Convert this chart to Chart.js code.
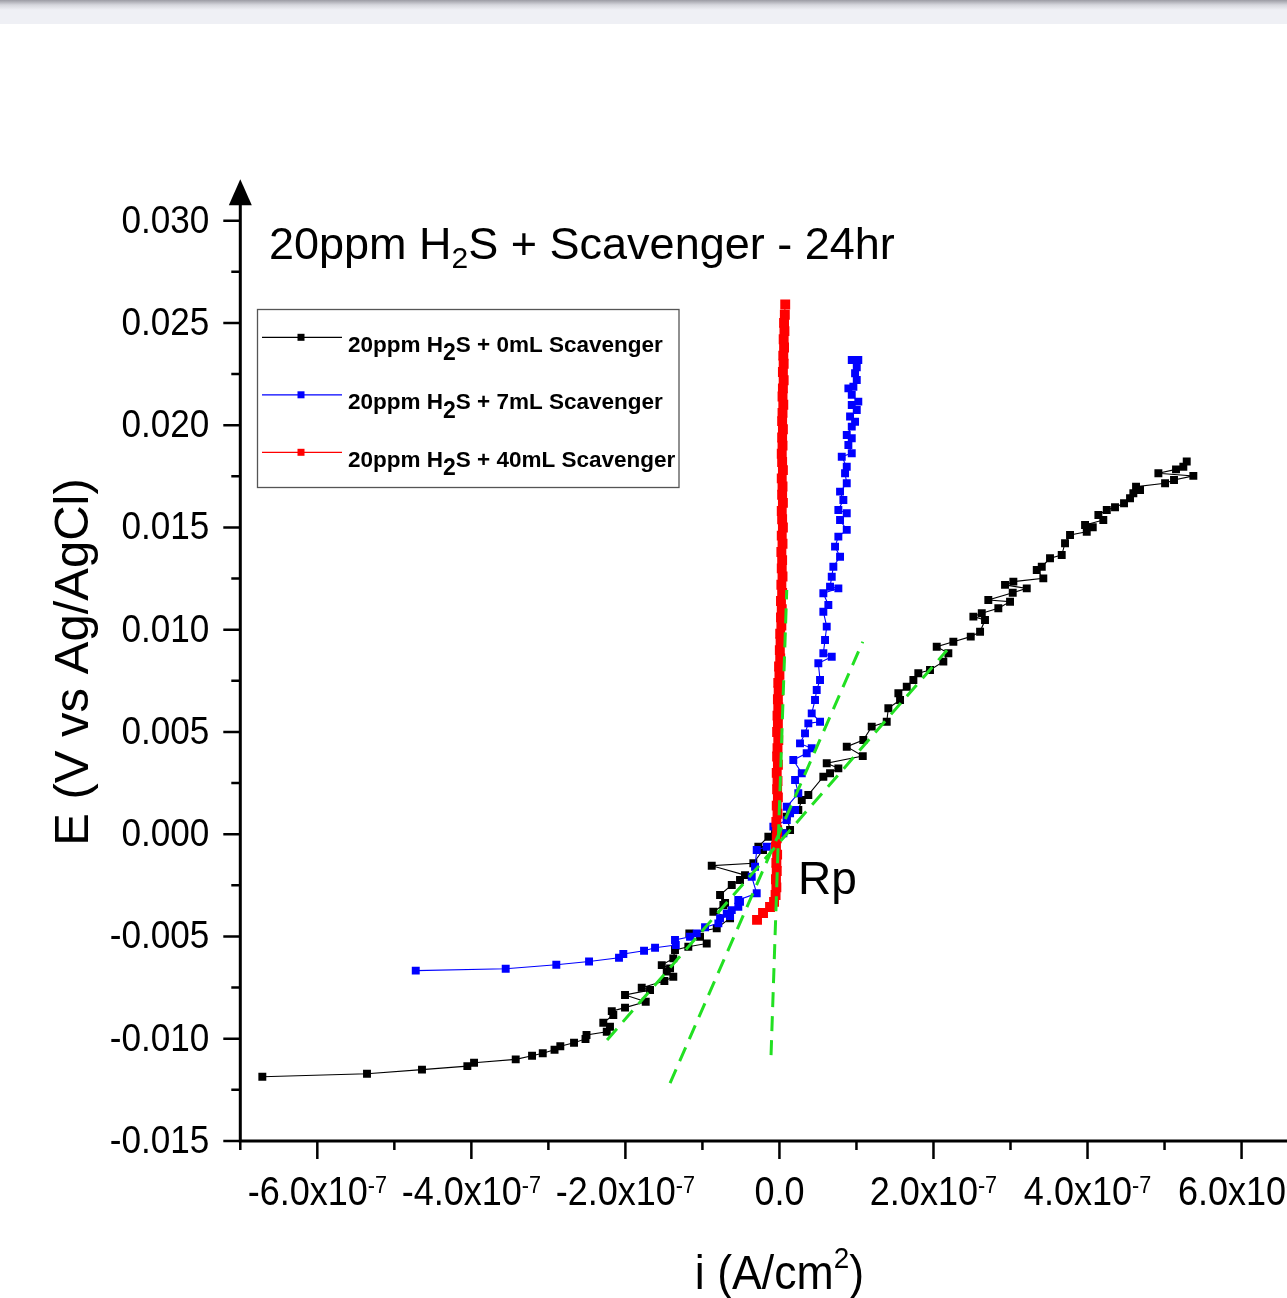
<!DOCTYPE html>
<html>
<head>
<meta charset="utf-8">
<script src="https://cdn.jsdelivr.net/npm/chart.js@4.4.0/dist/chart.umd.min.js"></script>
<style>
  html, body { margin: 0; padding: 0; background: #fff; overflow: hidden; }
  body { width: 1287px; height: 1298px; position: relative; }
  #barra { position: absolute; left: 0; top: 0; width: 1287px; height: 24px;
    background: linear-gradient(#9c9ca4 0px, #d6d7dd 5px, #eff0f5 10px, #eff0f5 24px); }
  #grafico { position: absolute; left: 0; top: 0; }
</style>
</head>
<body>
<canvas id="grafico" width="1450" height="1298"></canvas>
<div id="barra"></div>
<script>
// corrente em 1e-7 A/cm2, potencial em mV
const nomes = ['20ppm H₂S + 0mL Scavenger', '20ppm H₂S + 7mL Scavenger', '20ppm H₂S + 40mL Scavenger'];
const cores = ['#000000', '#0000ff', '#ff0000'];

const i0mL = [-6.714, -5.355, -4.641, -4.052, -3.965, -3.424, -3.212, -3.073, -2.920, -2.845, -2.667, -2.518, -2.505,
  -2.242, -2.200, -2.287, -2.157, -2.177, -2.005, -1.736, -2.005, -1.680, -1.788, -1.494, -1.378, -1.463, -1.420,
  -1.528, -1.378, -1.356, -1.183, -0.944, -1.031, -1.170, -0.814, -0.641, -0.858, -0.728, -0.706, -0.771, -0.619,
  -0.512, -0.447, -0.879, -0.339, -0.213, -0.274, -0.144, -0.057, 0.138, 0.095, 0.245, 0.290, 0.375, 0.570, 0.657,
  0.765, 0.614, 1.082, 0.874, 1.089, 1.198, 1.393, 1.414, 1.566, 1.544, 1.653, 1.739, 1.803, 1.955, 2.128, 2.193,
  2.042, 2.258, 2.484, 2.605, 2.669, 2.518, 2.627, 2.842, 2.994, 2.712, 3.029, 3.211, 2.929, 3.037, 3.426, 3.341,
  3.406, 3.513, 3.665, 3.708, 3.773, 3.990, 4.068, 3.968, 4.205, 4.141, 4.250, 4.357, 4.474, 4.552, 4.595, 4.682,
  4.630, 5.007, 5.123, 5.374, 4.920, 5.149, 5.244, 5.288];
const e0mL = [-11.86, -11.71, -11.51, -11.34, -11.17, -11.01, -10.83, -10.71, -10.54, -10.37, -10.20, -10.01, -9.82,
  -9.66, -9.41, -9.22, -8.84, -8.65, -8.48, -8.19, -7.86, -7.62, -7.51, -7.18, -6.97, -6.72, -6.56,
  -6.40, -6.07, -5.66, -5.50, -5.34, -5.01, -4.85, -4.60, -4.11, -3.79, -3.46, -3.36, -2.97, -2.48,
  -2.24, -2.00, -1.54, -1.42, -0.77, -0.61, -0.12, 0.21, 0.21, 0.86, 1.18, 1.67, 1.92, 2.81, 2.98,
  3.22, 3.47, 3.82, 4.28, 4.61, 5.26, 5.50, 6.16, 6.56, 6.89, 7.21, 7.54, 7.87, 8.03, 8.44, 8.85,
  9.17, 9.41, 9.66, 9.90, 10.47, 10.64, 10.80, 11.05, 11.37, 11.45, 11.81, 12.02, 12.19, 12.35, 12.51, 12.92,
  13.08, 13.49, 13.65, 14.23, 14.63, 14.79, 15.01, 15.12, 15.36, 15.61, 15.85, 15.99, 16.18, 16.43, 16.67, 16.83,
  16.99, 17.16, 17.32, 17.52, 17.65, 17.84, 17.97, 18.22];

const i7mL = [-4.722, -3.554, -2.897, -2.472, -2.083, -2.027, -1.758, -1.615, -1.346, -1.356, -1.161, -1.074, -0.966,
  -0.793, -0.771, -0.641, -0.684, -0.619, -0.534, -0.512, -0.534, -0.295, -0.360, -0.317, -0.295, -0.165, 0.051,
  -0.079, 0.095, 0.138, 0.203, 0.095, 0.245, 0.203, 0.290, 0.180, 0.354, 0.419, 0.267, 0.332, 0.375, 0.527, 0.419,
  0.462, 0.484, 0.527, 0.505, 0.679, 0.570, 0.592, 0.614, 0.570, 0.635, 0.570, 0.765, 0.657, 0.679, 0.700, 0.787,
  0.722, 0.765, 0.874, 0.787, 0.874, 0.765, 0.830, 0.787, 0.874, 0.852, 0.874, 0.809, 0.939, 0.895, 0.939, 0.874,
  0.939, 0.982, 0.917, 1.004, 0.939, 1.024, 0.939, 0.895, 0.960, 1.004, 0.982, 1.004, 0.939, 1.024];
const e7mL = [-6.67, -6.58, -6.38, -6.22, -6.04, -5.86, -5.70, -5.55, -5.42, -5.17, -5.01, -4.85, -4.55,
  -4.36, -4.11, -4.00, -3.87, -3.71, -3.55, -3.30, -3.22, -2.89, -2.08, -1.59, -0.77, -0.61, 0.04,
  0.37, 0.69, 1.02, 1.18, 1.34, 2.00, 2.65, 2.98, 3.63, 3.96, 4.20, 4.44, 4.93, 5.42, 5.50, 5.91,
  6.56, 7.05, 7.54, 8.36, 8.68, 8.85, 9.50, 10.15, 10.88, 11.21, 11.78, 12.02, 12.10, 12.59, 13.08, 13.57,
  14.06, 14.55, 14.88, 15.36, 15.69, 15.85, 16.34, 16.75, 17.16, 17.65, 17.97, 18.46, 18.63, 19.03, 19.36, 19.52,
  19.93, 20.17, 20.42, 20.74, 20.99, 21.15, 21.48, 21.80, 21.88, 22.21, 22.54, 22.83, 23.19, 23.19];

const i40mL = [-0.291, -0.213, -0.122, -0.070, -0.050, -0.040, -0.045, -0.035, -0.040, -0.030, -0.045, -0.035,
  -0.030, -0.040, -0.025, -0.035, -0.020, -0.030, -0.025, -0.035, -0.020, -0.030, -0.025, -0.015, -0.030, -0.020,
  -0.025, -0.015, -0.020, -0.010, -0.015, 0.000, -0.005, 0.010, 0.005, 0.015, 0.010, 0.025, 0.020, 0.030, 0.020,
  0.035, 0.025, 0.040, 0.030, 0.035, 0.025, 0.040, 0.030, 0.045, 0.035, 0.030, 0.045, 0.035, 0.040, 0.030, 0.045,
  0.035, 0.030, 0.040, 0.035, 0.045, 0.035, 0.040, 0.050, 0.040, 0.045, 0.055, 0.045, 0.055, 0.050, 0.060, 0.055,
  0.065, 0.060, 0.070, 0.075];
const e40mL = [-4.19, -3.85, -3.56, -3.31, -2.97, -2.6, -2.2, -1.8, -1.4, -1.0, -0.6, -0.2,
  0.2, 0.6, 1.0, 1.4, 1.8, 2.2, 2.6, 3.0, 3.4, 3.8, 4.2, 4.6, 5.0, 5.4,
  5.8, 6.2, 6.6, 7.0, 7.4, 7.8, 8.2, 8.6, 9.0, 9.4, 9.8, 10.2, 10.6, 11.0, 11.4,
  11.8, 12.2, 12.6, 13.0, 13.4, 13.8, 14.2, 14.6, 15.0, 15.4, 15.8, 16.2, 16.6, 17.0, 17.4, 17.8,
  18.2, 18.6, 19.0, 19.4, 19.8, 20.2, 20.6, 21.0, 21.4, 21.8, 22.2, 22.6, 23.0, 23.4, 23.8, 24.2,
  24.6, 25.0, 25.4, 25.9];

// retas de Rp (verde tracejado)
const retaI0 = [-2.238, 2.176], retaE0 = [-10.06, 9.00];
const retaI7 = [-1.420, 1.082], retaE7 = [-12.17, 9.41];
const retaI40 = [-0.109, 0.095], retaE40 = [-10.8, 11.94];

const yTicks = [-0.015, -0.010, -0.005, 0.000, 0.005, 0.010, 0.015, 0.020, 0.025, 0.030];
const yTickLabels = ['-0.015', '-0.010', '-0.005', '0.000', '0.005', '0.010', '0.015', '0.020', '0.025', '0.030'];
const xTicks = [-6e-7, -4e-7, -2e-7, 0, 2e-7, 4e-7, 6e-7];
const xTickMant = ['-6.0', '-4.0', '-2.0', '0.0', '2.0', '4.0', '6.0'];
const xTickExp = ['-7', '-7', '-7', '', '-7', '-7', '-7'];

const FONTE = "'Liberation Sans', Arial, sans-serif";

function pontos(iArr, eArr) {
  return iArr.map((v, k) => ({ x: v * 1e-7, y: eArr[k] / 1000 }));
}

function serie(idx, iArr, eArr, raio) {
  return {
    label: nomes[idx], data: pontos(iArr, eArr), showLine: true,
    borderColor: cores[idx], backgroundColor: cores[idx], borderWidth: 1.1,
    pointStyle: 'rect', pointRadius: raio, pointBorderWidth: 0, pointBackgroundColor: cores[idx]
  };
}

function reta(iArr, eArr) {
  return {
    label: 'Rp', data: pontos(iArr, eArr), showLine: true, borderColor: '#22e022',
    borderWidth: 3, borderDash: [15, 9], pointRadius: 0
  };
}

// texto em partes (para sub/sobrescrito), com compressão horizontal sx
function texto(ctx, partes, x, y, alinh, sx) {
  let w = 0;
  partes.forEach(p => { ctx.font = p.f; w += ctx.measureText(p.t).width; });
  w *= sx;
  let cx = alinh === 'right' ? x - w : alinh === 'center' ? x - w / 2 : x;
  ctx.textAlign = 'left';
  ctx.textBaseline = 'alphabetic';
  partes.forEach(p => {
    ctx.font = p.f;
    ctx.save();
    ctx.translate(cx, y + (p.dy || 0));
    ctx.scale(sx, 1);
    ctx.fillText(p.t, 0, 0);
    ctx.restore();
    cx += ctx.measureText(p.t).width * sx;
  });
}

const eixos = {
  id: 'eixos',
  afterDraw(chart) {
    const ctx = chart.ctx;
    const sx = chart.scales.x, sy = chart.scales.y;
    const esq = chart.chartArea.left, base = chart.chartArea.bottom, topo = chart.chartArea.top;
    ctx.save();
    ctx.fillStyle = '#000';
    ctx.strokeStyle = '#000';

    // linhas dos eixos
    ctx.lineWidth = 3;
    ctx.beginPath();
    ctx.moveTo(esq, base + 1.5);
    ctx.lineTo(esq, topo + 4);
    ctx.moveTo(esq - 1.5, base);
    ctx.lineTo(chart.width, base);
    ctx.stroke();
    // seta
    ctx.beginPath();
    ctx.moveTo(esq, topo - 21);
    ctx.lineTo(esq - 11.5, topo + 5);
    ctx.lineTo(esq + 11.5, topo + 5);
    ctx.closePath();
    ctx.fill();

    // ticks
    ctx.lineWidth = 2.5;
    ctx.beginPath();
    yTicks.forEach((v, k) => {
      const p = sy.getPixelForValue(v);
      ctx.moveTo(esq - 17, p); ctx.lineTo(esq, p);
      if (k < yTicks.length - 1) {
        const m = sy.getPixelForValue(v + 0.0025);
        ctx.moveTo(esq - 9, m); ctx.lineTo(esq, m);
      }
    });
    xTicks.forEach(v => {
      const p = sx.getPixelForValue(v);
      ctx.moveTo(p, base); ctx.lineTo(p, base + 18);
    });
    [-7e-7, -5e-7, -3e-7, -1e-7, 1e-7, 3e-7, 5e-7, 7e-7].forEach(v => {
      const p = sx.getPixelForValue(v);
      ctx.moveTo(p, base); ctx.lineTo(p, base + 9);
    });
    ctx.stroke();

    // rótulos dos ticks
    yTicks.forEach((v, k) => {
      texto(ctx, [{ t: yTickLabels[k], f: '39px ' + FONTE }], esq - 31, sy.getPixelForValue(v) + 12, 'right', 0.9);
    });
    xTicks.forEach((v, k) => {
      const partes = [{ t: xTickMant[k] + (xTickExp[k] ? 'x10' : ''), f: '40px ' + FONTE }];
      if (xTickExp[k]) partes.push({ t: xTickExp[k], f: '24px ' + FONTE, dy: -12 });
      texto(ctx, partes, sx.getPixelForValue(v), base + 63.5, 'center', 0.9);
    });

    // títulos dos eixos
    texto(ctx, [{ t: 'i (A/cm', f: '48px ' + FONTE }, { t: '2', f: '30px ' + FONTE, dy: -21 },
      { t: ')', f: '48px ' + FONTE }], sx.getPixelForValue(0), 1289, 'center', 0.93);
    ctx.save();
    ctx.translate(88, 662);
    ctx.rotate(-Math.PI / 2);
    texto(ctx, [{ t: 'E (V vs Ag/AgCl)', f: '49px ' + FONTE }], 0, 0, 'center', 1);
    ctx.restore();

    // título
    texto(ctx, [{ t: '20ppm H', f: '45px ' + FONTE }, { t: '2', f: '30px ' + FONTE, dy: 9 },
      { t: 'S + Scavenger - 24hr', f: '45px ' + FONTE }], 269, 259, 'left', 1);

    // Rp
    texto(ctx, [{ t: 'Rp', f: '46px ' + FONTE }], 798, 893.5, 'left', 1);

    // legenda
    ctx.lineWidth = 1.3;
    ctx.strokeStyle = '#555';
    ctx.strokeRect(257.5, 309.5, 421.5, 178);
    [0, 1, 2].forEach(k => {
      const y = 337.3 + k * 57.5;
      ctx.strokeStyle = cores[k];
      ctx.fillStyle = cores[k];
      ctx.lineWidth = 1.2;
      ctx.beginPath();
      ctx.moveTo(262, y); ctx.lineTo(342, y);
      ctx.stroke();
      ctx.fillRect(297.5, y - 3.5, 7, 7);
      const [antes, depois] = nomes[k].split('₂');
      ctx.fillStyle = '#000';
      texto(ctx, [{ t: antes, f: 'bold 22.5px ' + FONTE }, { t: '2', f: 'bold 23px ' + FONTE, dy: 8.3 },
        { t: depois, f: 'bold 22.5px ' + FONTE }], 348, y + 14.5, 'left', 1);
    });
    ctx.restore();
  }
};

new Chart(document.getElementById('grafico'), {
  type: 'scatter',
  data: {
    datasets: [
      reta(retaI0, retaE0),
      reta(retaI7, retaE7),
      reta(retaI40, retaE40),
      serie(2, i40mL, e40mL, 7),
      serie(1, i7mL, e7mL, 5.6),
      serie(0, i0mL, e0mL, 5.6)
    ]
  },
  options: {
    responsive: false,
    animation: false,
    layout: { autoPadding: false, padding: { left: 240.3, right: 54.4, top: 200.2, bottom: 157 } },
    scales: {
      x: { type: 'linear', min: -7e-7, max: 8e-7, display: false },
      y: { type: 'linear', min: -0.015, max: 0.031, display: false }
    },
    plugins: { legend: { display: false }, tooltip: { enabled: false } }
  },
  plugins: [eixos]
});
</script>
</body>
</html>
